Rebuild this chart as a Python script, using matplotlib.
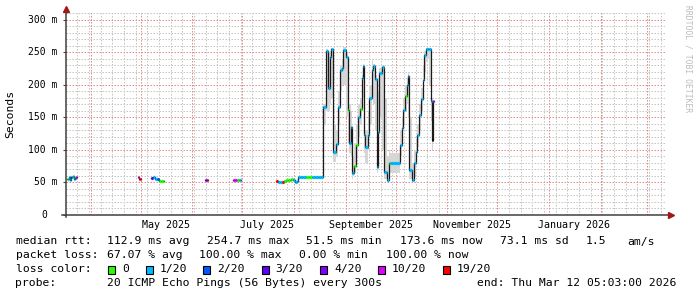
"""
SmokePing style latency graph: median rtt coloured by packet loss,
grey smoke for the ping spread, rrdtool look and legend block.
"""

import numpy as np
import pandas as pd
import matplotlib
matplotlib.use("Agg")
import matplotlib.pyplot as plt
import matplotlib.dates as mdates
from matplotlib.patches import Rectangle
from matplotlib.ticker import MultipleLocator, NullFormatter

START = pd.Timestamp("2025-03-17 05:03")
END = pd.Timestamp("2026-03-12 05:03")
NAN = np.nan

# days after START; NaN rows are gaps (no data)
day = [
    0.6, 1.2, 1.8, 2.4, 3.0, 3.6, 4.2, 4.8, 5.4, 6.0, 6.6,
    43.2, 43.8, 44.4, 45.0,
    51.0, 52.2, 53.4, 54.6, 55.8, 57.0, 58.2, 58.8,
    83.4, 84.0, 84.6, 85.2,
    100.2, 101.4, 102.6, 103.8, 104.4, 105.0,
    126.0, 127.2, 128.4, 129.6, 130.8, 132.0, 133.2, 134.4, 135.0, 136.2,
    137.4, 138.6, 139.2, 140.4, 142.2, 144.0, 145.8, 147.6, 149.4, 151.2,
    153.0, 154.4, 156.0, 157.2, 158.1, 159.0, 160.4, 162.2, 163.2, 164.1,
    165.3, 166.4, 168.0, 169.0, 169.8, 170.7, 171.8, 172.4, 173.0, 174.0,
    175.0, 176.4, 177.3, 178.0, 178.8, 179.6, 180.9, 182.0, 183.3, 184.0,
    185.1, 186.4, 187.4, 188.0, 189.4, 190.5, 192.4, 193.6, 194.4, 196.2,
    198.0, 200.2, 201.4, 202.4, 203.4, 204.4, 205.0, 205.8, 207.4, 208.8,
    210.0, 210.8, 211.8, 213.0, 214.0, 215.0, 216.0, 217.2, 218.0, 218.8,
    219.6, 220.0, 220.6,
]

# median rtt in ms
rtt = [
    55, 56, 58, 54, 58, 58, 60, 56, 57, 58, NAN,
    59, 56, 55, NAN,
    57, 58, 56, 55, 52, 52, 52, NAN,
    54, 54, 54, NAN,
    54, 53, 53, 53, 53, NAN,
    52, 51, 51, 51, 52, 53, 53, 54, 56, 53,
    51, 52, 58, 58, 58, 59, 59, 58, 58, 58,
    58, 166, 252, 195, 243, 254.6, 97, 109, 166, 222,
    225, 253, 243, 161, 110, 135, 64, 64, 75.6, 107,
    151, 162.6, 210, 229, 123, 104, 123, 180, 222, 229,
    208.6, 74, 128, 218, 227.5, 66, 53.7, 80, 80, 80,
    80, 107, 133, 161, 182.5, 199, 213, 69, 53.7, 80,
    96.6, 122.7, 153, 178, 207, 245, 254, 254, 254, 175,
    115, 175, NAN,
]

# lost pings out of 20 (-1: plain line, no loss colour)
loss = [
    0, 1, 1, 1, 2, 1, 0, 1, 2, 10, -1,
    10, 19, 19, -1,
    3, 1, 1, 2, 0, 0, 0, -1,
    4, 3, 19, -1,
    10, 10, 0, 1, 1, -1,
    19, 1, 1, 19, 0, 0, 0, 0, 0, 1,
    1, 1, 1, 1, 1, 0, 0, 1, 1, 1,
    1, 1, 1, 1, 1, 1, 1, 1, 1, 1,
    1, 1, 1, 0, 1, 1, 1, 1, 0, 0,
    1, 0, 1, 1, 1, 1, 1, 1, 1, 1,
    1, 1, 1, 1, 1, 1, 1, 0, 1, 1,
    1, 1, 1, 1, 0, 1, 1, 1, 1, 1,
    1, 1, 1, 1, 1, 1, 1, 1, 1, 1,
    -1, 10, -1,
]

# smoke (ping spread) low / high in ms
smoke_lo = [NAN] * 54 + [
    140, 160, 160, 170, 180, 82, 90, 140, 190,
    200, 200, 150, 110, 95, 90, 55, 60, 65, 90,
    120, 140, 160, 180, 95, 80, 100, 140, 180, 170,
    130, 65, 80, 150, 100, 55, 50, 60, 65, 65,
    65, 90, 110, 140, 160, 170, 150, 55, 50, 60,
    85, 105, 130, 160, 185, 220, 235, 240, 200, 145,
    100, 150, NAN,
]
smoke_hi = [NAN] * 54 + [
    170, 255, 250, 252, 257, 140, 130, 190, 230,
    240, 258, 250, 200, 170, 160, 110, 90, 110, 140,
    170, 180, 215, 232, 180, 130, 160, 200, 240, 232,
    215, 200, 190, 225, 230, 180, 90, 100, 95, 95,
    95, 130, 150, 180, 200, 210, 220, 150, 80, 100,
    115, 140, 170, 195, 230, 252, 257, 257, 257, 200,
    180, 180, NAN,
]

LOSS_COLORS = {
    0: "#26ff00", 1: "#00b8ff", 2: "#0059ff", 3: "#5e00ff",
    4: "#7e00ff", 10: "#dd00ff", 19: "#ff0000", -1: "#000000",
}
legend_bins = [0, 1, 2, 3, 4, 10, 19]

rtt_stats = [("112.9 ms avg", 107.3), ("254.7 ms max", 207.3),
             ("51.5 ms min", 306.7), ("173.6 ms now", 400.3),
             ("73.1 ms sd", 500.3), ("1.5", 586.3), ("am/s", 628.0)]
loss_stats = [("67.07 % avg", 107.3), ("100.00 % max", 200.0),
              ("0.00 % min", 300.0), ("100.00 % now", 386.3)]
legend_box_x = [108.0, 145.7, 202.7, 261.7, 320.0, 377.7, 443.0]
probe_text = "20 ICMP Echo Pings (56 Bytes) every 300s"
end_text = "end: Thu Mar 12 05:03:00 2026"

W, H = 697, 297
MONO = "DejaVu Sans Mono"
GRID_MINOR = "#c6c6c6"
GRID_MAJOR = "#e88c8c"
AXIS = "#404040"
ARROW = "#a01818"
DOTS = (0, (1.5, 1.5))


def fx(x):
    return x / W


def fy(y):
    return 1 - y / H


plt.rcParams["font.family"] = MONO
fig = plt.figure(figsize=(W / 100, H / 100), dpi=100)
fig.patch.set_facecolor("white")
ax = fig.add_axes([fx(66), fy(215), 600 / W, 202 / H])
ax.set_xlim(START, END)
ax.set_ylim(0, 310)
for s in ax.spines.values():
    s.set_visible(False)
ax.set_axisbelow(True)

t = START + pd.to_timedelta(day, unit="D")
t_num = mdates.date2num(t.to_pydatetime())
rtt_a = np.array(rtt, dtype=float)

# smoke
ax.fill_between(t_num, smoke_lo, smoke_hi, step="post",
                color="#d6d6d6", linewidth=0, zorder=1)

# median: dark steps, loss coloured horizontal parts
ax.plot(t_num, rtt_a, drawstyle="steps-post", color="#1a1a1a",
        lw=0.9, zorder=2)
ok = ~np.isnan(rtt_a[:-1])
ax.hlines(rtt_a[:-1][ok], t_num[:-1][ok], t_num[1:][ok],
          colors=[LOSS_COLORS[c] for c, k in zip(loss[:-1], ok) if k],
          lw=2.3, zorder=3)

# grid: weekly (Mondays) minor, monthly red, 10 ms / 50 ms horizontal
ax.xaxis.set_major_locator(mdates.MonthLocator(bymonth=[1, 3, 5, 7, 9, 11],
                                               bymonthday=16))
ax.xaxis.set_major_formatter(mdates.DateFormatter("%B %Y"))
ax.xaxis.set_minor_locator(mdates.WeekdayLocator(byweekday=mdates.MO))
ax.xaxis.remove_overlapping_locs = False
ax.yaxis.set_major_locator(MultipleLocator(50))
ax.yaxis.set_minor_locator(MultipleLocator(10))
ax.yaxis.set_major_formatter(NullFormatter())
ax.grid(which="minor", color=GRID_MINOR, lw=0.72, ls=DOTS)
ax.grid(which="major", axis="y", color=GRID_MAJOR, lw=0.72, ls=DOTS)
for m in mdates.MonthLocator().tick_values(START, END):
    ax.axvline(m, color=GRID_MAJOR, lw=0.72, ls=DOTS, zorder=0.6)

ax.tick_params(axis="x", which="both", length=0, pad=3.5,
               labelsize=7.2, labelcolor="#000000")
ax.tick_params(axis="y", which="major", length=2.5, width=0.8,
               color=AXIS, direction="out")
ax.tick_params(axis="y", which="minor", length=0)

# y labels
ytrans = ax.get_yaxis_transform()
for v in range(0, 301, 50):
    lab = f"{v} m" if v else "0"
    xoff = -9 if v else -18.5
    ax.text(xoff / 600, v, lab, transform=ytrans, ha="right", va="center",
            fontsize=7.0, color="#000000")

# axes with arrows
ax.plot([-4 / 600, 603 / 600], [0, 0], transform=ax.transAxes,
        color=AXIS, lw=1.1, clip_on=False, zorder=5)
ax.plot([0, 0], [-2 / 202, 1 + 3 / 202], transform=ax.transAxes,
        color=AXIS, lw=1.1, clip_on=False, zorder=5)
ax.plot([605 / 600], [0], marker=">", ms=4, color=ARROW, mec=ARROW,
        transform=ax.transAxes, clip_on=False, zorder=6)
ax.plot([0], [1 + 4 / 202], marker="^", ms=4, color=ARROW, mec=ARROW,
        transform=ax.transAxes, clip_on=False, zorder=6)

# side texts
fig.text(fx(10.5), fy(114), "Seconds", rotation=90, ha="center",
         va="center", fontsize=8.2)
fig.text(fx(688), fy(59), "RRDTOOL / TOBI OETIKER", rotation=270,
         ha="center", va="center", fontsize=5.8, color="#bcbcbc")

# legend block
FS = 8.2
base = [244.5, 258.4, 272.3, 286.2]
fig.text(fx(15.5), fy(base[0]), "median rtt:", fontsize=FS, va="baseline")
for txt, x in rtt_stats:
    fig.text(fx(x - 0.7), fy(base[0]), txt, fontsize=FS, va="baseline")
fig.text(fx(15.5), fy(base[1]), "packet loss:", fontsize=FS, va="baseline")
for txt, x in loss_stats:
    fig.text(fx(x - 0.7), fy(base[1]), txt, fontsize=FS, va="baseline")
fig.text(fx(15.5), fy(base[2]), "loss color:", fontsize=FS, va="baseline")
for b, x in zip(legend_bins, legend_box_x):
    fig.add_artist(Rectangle((fx(x), fy(273.5)), 7 / W, 8 / H,
                             transform=fig.transFigure,
                             facecolor=LOSS_COLORS[b], edgecolor="black",
                             lw=0.8))
    lab = "0" if b == 0 else f"{b}/20"
    fig.text(fx(x + 14.0), fy(base[2]), lab, fontsize=FS, va="baseline")
fig.text(fx(15.5), fy(base[3]), "probe:", fontsize=FS, va="baseline")
fig.text(fx(106.6), fy(base[3]), probe_text, fontsize=FS, va="baseline")
fig.text(fx(477.0), fy(base[3]), end_text, fontsize=FS, va="baseline")

fig.savefig("out.png", dpi=100, facecolor="white")
